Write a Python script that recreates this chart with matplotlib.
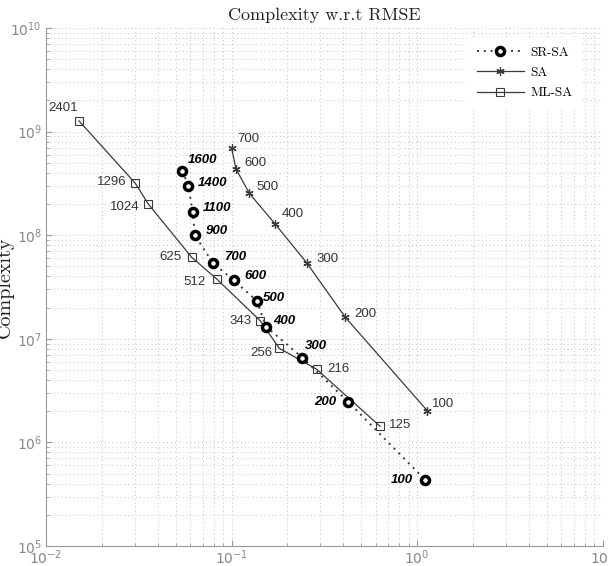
import matplotlib
matplotlib.use("Agg")
import matplotlib.pyplot as plt
import numpy as np

# ML-SA (squares)
ml_rmse = [0.01506, 0.0303, 0.0356, 0.0610, 0.0832, 0.143, 0.181, 0.288, 0.632]
ml_cplx = [1.27e9, 3.17e8, 2.00e8, 6.12e7, 3.78e7, 1.49e7, 8.09e6, 5.08e6, 1.43e6]
ml_lbl = ["2401", "1296", "1024", "625", "512", "343", "256", "216", "125"]

# SA (stars)
sa_rmse = [0.1002, 0.1057, 0.1247, 0.1714, 0.254, 0.410, 1.137]
sa_cplx = [6.9e8, 4.36e8, 2.54e8, 1.29e8, 5.43e7, 1.62e7, 2.02e6]
sa_lbl = ["700", "600", "500", "400", "300", "200", "100"]

# SR-SA (circles)
sr_rmse = [0.0543, 0.0585, 0.0618, 0.0635, 0.0794, 0.1028, 0.1368, 0.1535, 0.241, 0.425, 1.104]
sr_cplx = [4.17e8, 3.01e8, 1.66e8, 9.97e7, 5.39e7, 3.67e7, 2.33e7, 1.31e7, 6.58e6, 2.47e6, 4.37e5]
sr_lbl = ["1600", "1400", "1100", "900", "700", "600", "500", "400", "300", "200", "100"]

serif = "cmr10"

fig = plt.figure(figsize=(6.09, 5.66), dpi=100)
ax = fig.add_axes([46/609, 20/566, 556.5/609, 518/566])

line_col = "#3a3a3a"
ax.loglog(sr_rmse, sr_cplx, linestyle=(0, (1, 2.5)), color=line_col, linewidth=1.4,
          marker='o', markersize=5.8, markeredgewidth=2.5, markeredgecolor='black',
          markerfacecolor='white', label='SR-SA', zorder=4)
ax.loglog(sa_rmse, sa_cplx, '-', color=line_col, linewidth=0.9,
          marker=(6, 2, 0), markersize=6, markeredgewidth=0.9, markeredgecolor=line_col,
          label='SA', zorder=3)
ax.loglog(ml_rmse, ml_cplx, '-', color=line_col, linewidth=0.9,
          marker='s', markersize=5.5, markeredgewidth=0.8, markeredgecolor=line_col,
          markerfacecolor='none', label='ML-SA', zorder=3)

# point labels (offsets in points)
lbl_font = dict(fontsize=9.5, color="#333333", family="Liberation Sans")
ml_off = [(-1, 5, 'right', 'bottom'), (-6, 1, 'right', 'center'), (-6.5, -2, 'right', 'center'),
          (-7.5, 0, 'right', 'center'), (-8, -2, 'right', 'center'), (-6.5, 0, 'right', 'center'),
          (-5, -3, 'right', 'center'), (7.5, 0, 'left', 'center'), (6.5, 1, 'left', 'center')]
for x, y, s, o in zip(ml_rmse, ml_cplx, ml_lbl, ml_off):
    ax.annotate(s, (x, y), xytext=(o[0], o[1]), textcoords='offset points',
                ha=o[2], va=o[3], **lbl_font)

sa_off = [(4, 7), (6, 4.5), (5, 4.5), (5, 7), (7, 3), (6.5, 2), (3.5, 5)]
for x, y, s, o in zip(sa_rmse, sa_cplx, sa_lbl, sa_off):
    ax.annotate(s, (x, y), xytext=o, textcoords='offset points',
                ha='left', va='center', **lbl_font)

sr_font = dict(fontsize=9.5, color="black", family="Liberation Sans",
               fontweight='bold', fontstyle='italic')
sr_off = [(4, 8, 'left'), (6.5, 2, 'left'), (7, 3, 'left'), (8, 3, 'left'), (8, 4.5, 'left'),
          (7.5, 3, 'left'), (4.5, 2, 'left'), (5, 4, 'left'), (2, 8.5, 'left'),
          (-8.5, 0, 'right'), (-8.5, 0, 'right')]
for x, y, s, o in zip(sr_rmse, sr_cplx, sr_lbl, sr_off):
    ax.annotate(s, (x, y), xytext=(o[0], o[1]), textcoords='offset points',
                ha=o[2], va='center', **sr_font)

ax.set_xlim(1e-2, 1e1)
ax.set_ylim(1e5, 1e10)

ax.grid(True, which='both', linestyle=(0, (1, 3)), color='#c4c4c4', linewidth=0.7)
for sp in ['top', 'right']:
    ax.spines[sp].set_visible(False)
for sp in ['left', 'bottom']:
    ax.spines[sp].set_color('#999999')
ax.tick_params(which='both', direction='in', colors='#999999', labelcolor='#888888',
               labelsize=10)
ax.tick_params(which='major', length=4)
ax.tick_params(which='minor', length=2)
ax.tick_params(axis='x', pad=2)
ax.tick_params(axis='y', pad=3)

ax.set_title('Complexity w.r.t RMSE', fontsize=13, family=serif, color='#222222', pad=6)
ax.set_ylabel('Complexity', fontsize=14.5, family=serif, color='#222222')
ax.yaxis.set_label_coords(-0.0575, 0.5)

leg = ax.legend(loc='upper right', bbox_to_anchor=(0.975, 0.995), frameon=True,
                prop=dict(family=serif, size=9.5), handlelength=3.6,
                labelspacing=0.62, borderpad=0.7, handletextpad=0.5)
leg.get_frame().set_edgecolor('none')
leg.get_frame().set_facecolor('white')
leg.get_frame().set_alpha(1)

fig.savefig("out.png", dpi=100)
